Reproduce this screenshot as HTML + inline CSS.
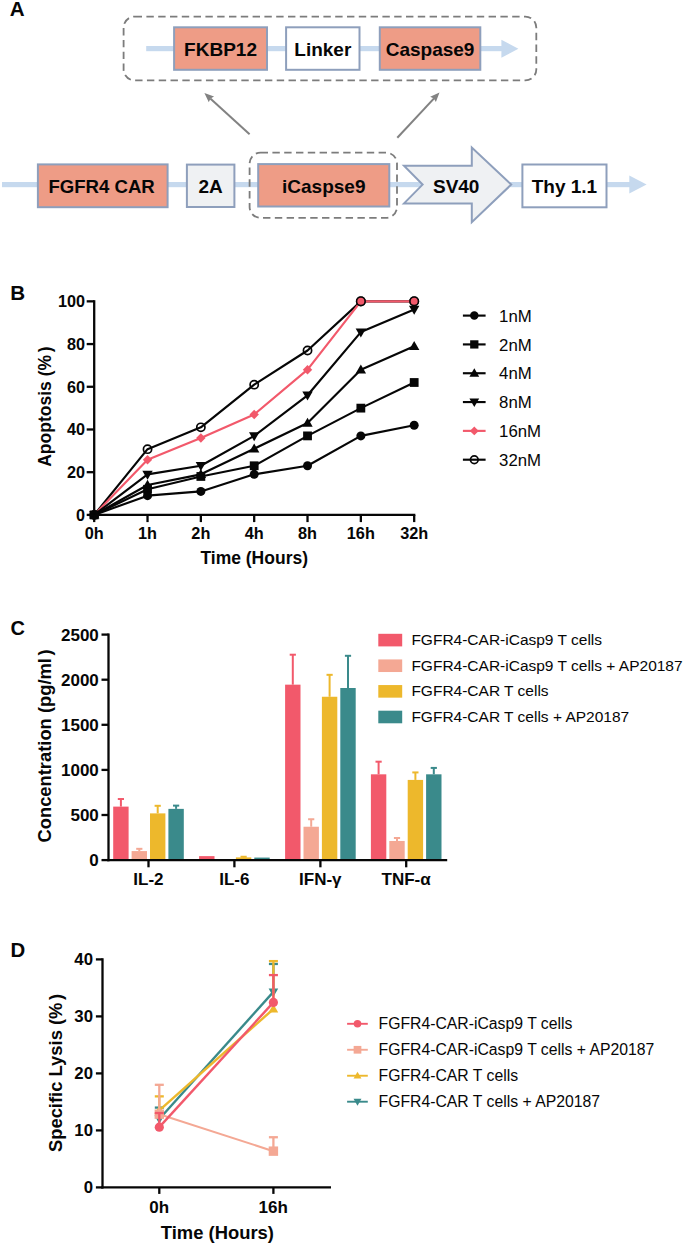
<!DOCTYPE html>
<html><head><meta charset="utf-8"><title>Figure</title>
<style>
html,body{margin:0;padding:0;background:#fff;}
body{width:685px;height:1245px;overflow:hidden;font-family:'Liberation Sans', sans-serif;}
svg{display:block;font-family:'Liberation Sans',sans-serif;}
</style></head><body>
<svg width="685" height="1245" viewBox="0 0 685 1245">
<rect width="685" height="1245" fill="#ffffff"/>
<text x="9.80" y="16.40" font-size="20.6" font-weight="bold" text-anchor="start" fill="#060606" >A</text>
<rect x="123.6" y="16.6" width="412.7" height="63.8" rx="11" ry="11" fill="none" stroke="#7C7C7C" stroke-width="1.8" stroke-dasharray="7.4 4.4"/>
<rect x="146.2" y="46" width="357" height="5.2" fill="#C6D9EE"/>
<polygon points="501.4,39.8 518.4,48.8 501.4,57.8" fill="#C6D9EE"/>
<rect x="174.10" y="27.30" width="92.90" height="42.50" fill="#EE9C86" stroke="#8E9FBC" stroke-width="2.0"/>
<text x="220.55" y="55.70" font-size="19" font-weight="bold" text-anchor="middle" fill="#060606" >FKBP12</text>
<rect x="286.10" y="27.30" width="73.40" height="42.50" fill="#FFFFFF" stroke="#8E9FBC" stroke-width="2.0"/>
<text x="322.80" y="55.70" font-size="19" font-weight="bold" text-anchor="middle" fill="#060606" >Linker</text>
<rect x="379.80" y="27.30" width="100.50" height="42.50" fill="#EE9C86" stroke="#8E9FBC" stroke-width="2.0"/>
<text x="430.05" y="55.70" font-size="19" font-weight="bold" text-anchor="middle" fill="#060606" >Caspase9</text>
<line x1="249.6" y1="134.2" x2="210.31" y2="98.39" stroke="#828282" stroke-width="2.0"/>
<polygon points="204.40,93.00 214.05,96.52 210.53,98.59 208.79,102.28" fill="#828282"/>
<line x1="397.3" y1="137.8" x2="434.05" y2="98.35" stroke="#828282" stroke-width="2.0"/>
<polygon points="439.50,92.50 435.88,102.11 433.84,98.57 430.17,96.79" fill="#828282"/>
<rect x="2" y="182" width="628" height="5.2" fill="#C6D9EE"/>
<polygon points="629.3,175.6 646.6,184.6 629.3,193.6" fill="#C6D9EE"/>
<rect x="249.6" y="152.6" width="147.4" height="65.3" rx="11" ry="11" fill="none" stroke="#7C7C7C" stroke-width="1.8" stroke-dasharray="7.4 4.4"/>
<rect x="37.90" y="164.40" width="129.70" height="42.80" fill="#EE9C86" stroke="#8E9FBC" stroke-width="2.0"/>
<text x="101.60" y="193.00" font-size="18.6" font-weight="bold" text-anchor="middle" fill="#060606" >FGFR4 CAR</text>
<rect x="186.90" y="164.60" width="47.50" height="42.40" fill="#EFF1F3" stroke="#8E9FBC" stroke-width="2.0"/>
<text x="210.65" y="193.00" font-size="19" font-weight="bold" text-anchor="middle" fill="#060606" >2A</text>
<rect x="258.20" y="164.10" width="131.10" height="42.40" fill="#EE9C86" stroke="#8E9FBC" stroke-width="2.0"/>
<text x="323.75" y="193.00" font-size="19" font-weight="bold" text-anchor="middle" fill="#060606" >iCaspse9</text>
<polygon points="404,165.8 471.8,165.8 471.8,147.6 511.2,184.6 471.8,222.2 471.8,203.4 404,203.4 422.6,184.6" fill="#EFF1F3" stroke="#8E9FBC" stroke-width="2.0" stroke-linejoin="miter"/>
<text x="456.20" y="193.00" font-size="19" font-weight="bold" text-anchor="middle" fill="#060606" >SV40</text>
<rect x="522.40" y="164.50" width="84.10" height="42.80" fill="#FFFFFF" stroke="#8E9FBC" stroke-width="2.0"/>
<text x="564.45" y="193.00" font-size="19" font-weight="bold" text-anchor="middle" fill="#060606" >Thy 1.1</text>
<text x="10.20" y="299.80" font-size="20.6" font-weight="bold" text-anchor="start" fill="#060606" >B</text>
<polyline points="94.20,514.90 147.53,449.13 200.86,427.34 254.19,384.63 307.52,350.47 360.85,301.35 414.18,301.35" fill="none" stroke="#060606" stroke-width="2.15" stroke-linejoin="round"/>
<circle cx="94.20" cy="514.90" r="4.10" fill="none" stroke="#060606" stroke-width="1.7"/>
<circle cx="147.53" cy="449.13" r="4.10" fill="none" stroke="#060606" stroke-width="1.7"/>
<circle cx="200.86" cy="427.34" r="4.10" fill="none" stroke="#060606" stroke-width="1.7"/>
<circle cx="254.19" cy="384.63" r="4.10" fill="none" stroke="#060606" stroke-width="1.7"/>
<circle cx="307.52" cy="350.47" r="4.10" fill="none" stroke="#060606" stroke-width="1.7"/>
<circle cx="360.85" cy="301.35" r="4.10" fill="none" stroke="#060606" stroke-width="1.7"/>
<circle cx="414.18" cy="301.35" r="4.10" fill="none" stroke="#060606" stroke-width="1.7"/>
<polyline points="94.20,514.90 147.53,459.80 200.86,438.02 254.19,414.53 307.52,369.69 360.85,301.35 414.18,301.35" fill="none" stroke="#F2596B" stroke-width="2.15" stroke-linejoin="round"/>
<polygon points="89.50,514.90 94.20,510.20 98.90,514.90 94.20,519.60" fill="#F2596B"/>
<polygon points="142.83,459.80 147.53,455.10 152.23,459.80 147.53,464.50" fill="#F2596B"/>
<polygon points="196.16,438.02 200.86,433.32 205.56,438.02 200.86,442.72" fill="#F2596B"/>
<polygon points="249.49,414.53 254.19,409.83 258.89,414.53 254.19,419.23" fill="#F2596B"/>
<polygon points="302.82,369.69 307.52,364.99 312.22,369.69 307.52,374.39" fill="#F2596B"/>
<polygon points="356.15,301.35 360.85,296.65 365.55,301.35 360.85,306.05" fill="#F2596B"/>
<polygon points="409.48,301.35 414.18,296.65 418.88,301.35 414.18,306.05" fill="#F2596B"/>
<polyline points="94.20,514.90 147.53,474.33 200.86,465.78 254.19,435.89 307.52,395.31 360.85,332.10 414.18,309.46" fill="none" stroke="#060606" stroke-width="2.15" stroke-linejoin="round"/>
<polygon points="89.00,511.20 99.40,511.20 94.20,520.20" fill="#060606"/>
<polygon points="142.33,470.63 152.73,470.63 147.53,479.63" fill="#060606"/>
<polygon points="195.66,462.08 206.06,462.08 200.86,471.08" fill="#060606"/>
<polygon points="248.99,432.19 259.39,432.19 254.19,441.19" fill="#060606"/>
<polygon points="302.32,391.61 312.72,391.61 307.52,400.61" fill="#060606"/>
<polygon points="355.65,328.40 366.05,328.40 360.85,337.40" fill="#060606"/>
<polygon points="408.98,305.76 419.38,305.76 414.18,314.76" fill="#060606"/>
<polyline points="94.20,514.90 147.53,485.00 200.86,474.33 254.19,448.70 307.52,423.07 360.85,369.69 414.18,346.20" fill="none" stroke="#060606" stroke-width="2.15" stroke-linejoin="round"/>
<polygon points="89.00,518.60 99.40,518.60 94.20,509.60" fill="#060606"/>
<polygon points="142.33,488.70 152.73,488.70 147.53,479.70" fill="#060606"/>
<polygon points="195.66,478.03 206.06,478.03 200.86,469.03" fill="#060606"/>
<polygon points="248.99,452.40 259.39,452.40 254.19,443.40" fill="#060606"/>
<polygon points="302.32,426.77 312.72,426.77 307.52,417.77" fill="#060606"/>
<polygon points="355.65,373.39 366.05,373.39 360.85,364.39" fill="#060606"/>
<polygon points="408.98,349.90 419.38,349.90 414.18,340.90" fill="#060606"/>
<polyline points="94.20,514.90 147.53,489.27 200.86,476.46 254.19,465.78 307.52,435.89 360.85,408.12 414.18,382.50" fill="none" stroke="#060606" stroke-width="2.15" stroke-linejoin="round"/>
<rect x="89.80" y="510.50" width="8.80" height="8.80" fill="#060606"/>
<rect x="143.13" y="484.87" width="8.80" height="8.80" fill="#060606"/>
<rect x="196.46" y="472.06" width="8.80" height="8.80" fill="#060606"/>
<rect x="249.79" y="461.38" width="8.80" height="8.80" fill="#060606"/>
<rect x="303.12" y="431.49" width="8.80" height="8.80" fill="#060606"/>
<rect x="356.45" y="403.73" width="8.80" height="8.80" fill="#060606"/>
<rect x="409.78" y="378.10" width="8.80" height="8.80" fill="#060606"/>
<polyline points="94.20,514.90 147.53,495.68 200.86,491.41 254.19,474.33 307.52,465.78 360.85,435.89 414.18,425.21" fill="none" stroke="#060606" stroke-width="2.15" stroke-linejoin="round"/>
<circle cx="94.20" cy="514.90" r="4.50" fill="#060606"/>
<circle cx="147.53" cy="495.68" r="4.50" fill="#060606"/>
<circle cx="200.86" cy="491.41" r="4.50" fill="#060606"/>
<circle cx="254.19" cy="474.33" r="4.50" fill="#060606"/>
<circle cx="307.52" cy="465.78" r="4.50" fill="#060606"/>
<circle cx="360.85" cy="435.89" r="4.50" fill="#060606"/>
<circle cx="414.18" cy="425.21" r="4.50" fill="#060606"/>
<circle cx="360.85" cy="301.35" r="4.3" fill="#F2596B" stroke="#060606" stroke-width="1.6"/>
<circle cx="414.18" cy="301.35" r="4.3" fill="#F2596B" stroke="#060606" stroke-width="1.6"/>
<line x1="94.2" y1="300.20" x2="94.2" y2="516.05" stroke="#060606" stroke-width="2.3"/>
<line x1="93.05" y1="514.9" x2="415.33" y2="514.9" stroke="#060606" stroke-width="2.3"/>
<line x1="86.7" y1="514.90" x2="94.2" y2="514.90" stroke="#060606" stroke-width="2.3"/>
<text x="84.90" y="520.65" font-size="16.2" font-weight="bold" text-anchor="end" fill="#060606" >0</text>
<line x1="86.7" y1="472.19" x2="94.2" y2="472.19" stroke="#060606" stroke-width="2.3"/>
<text x="84.90" y="477.94" font-size="16.2" font-weight="bold" text-anchor="end" fill="#060606" >20</text>
<line x1="86.7" y1="429.48" x2="94.2" y2="429.48" stroke="#060606" stroke-width="2.3"/>
<text x="84.90" y="435.23" font-size="16.2" font-weight="bold" text-anchor="end" fill="#060606" >40</text>
<line x1="86.7" y1="386.77" x2="94.2" y2="386.77" stroke="#060606" stroke-width="2.3"/>
<text x="84.90" y="392.52" font-size="16.2" font-weight="bold" text-anchor="end" fill="#060606" >60</text>
<line x1="86.7" y1="344.06" x2="94.2" y2="344.06" stroke="#060606" stroke-width="2.3"/>
<text x="84.90" y="349.81" font-size="16.2" font-weight="bold" text-anchor="end" fill="#060606" >80</text>
<line x1="86.7" y1="301.35" x2="94.2" y2="301.35" stroke="#060606" stroke-width="2.3"/>
<text x="84.90" y="307.10" font-size="16.2" font-weight="bold" text-anchor="end" fill="#060606" >100</text>
<line x1="94.20" y1="514.9" x2="94.20" y2="522.1" stroke="#060606" stroke-width="2.3"/>
<text x="94.20" y="539.30" font-size="16.3" font-weight="bold" text-anchor="middle" fill="#060606" >0h</text>
<line x1="147.53" y1="514.9" x2="147.53" y2="522.1" stroke="#060606" stroke-width="2.3"/>
<text x="147.53" y="539.30" font-size="16.3" font-weight="bold" text-anchor="middle" fill="#060606" >1h</text>
<line x1="200.86" y1="514.9" x2="200.86" y2="522.1" stroke="#060606" stroke-width="2.3"/>
<text x="200.86" y="539.30" font-size="16.3" font-weight="bold" text-anchor="middle" fill="#060606" >2h</text>
<line x1="254.19" y1="514.9" x2="254.19" y2="522.1" stroke="#060606" stroke-width="2.3"/>
<text x="254.19" y="539.30" font-size="16.3" font-weight="bold" text-anchor="middle" fill="#060606" >4h</text>
<line x1="307.52" y1="514.9" x2="307.52" y2="522.1" stroke="#060606" stroke-width="2.3"/>
<text x="307.52" y="539.30" font-size="16.3" font-weight="bold" text-anchor="middle" fill="#060606" >8h</text>
<line x1="360.85" y1="514.9" x2="360.85" y2="522.1" stroke="#060606" stroke-width="2.3"/>
<text x="360.85" y="539.30" font-size="16.3" font-weight="bold" text-anchor="middle" fill="#060606" >16h</text>
<line x1="414.18" y1="514.9" x2="414.18" y2="522.1" stroke="#060606" stroke-width="2.3"/>
<text x="414.18" y="539.30" font-size="16.3" font-weight="bold" text-anchor="middle" fill="#060606" >32h</text>
<text x="254.20" y="564.00" font-size="17.5" font-weight="bold" text-anchor="middle" fill="#060606" >Time (Hours)</text>
<text transform="translate(50.5,406.7) rotate(-90)" font-size="17.55" font-weight="bold" text-anchor="middle" fill="#060606">Apoptosis (%<tspan dx="2.5">)</tspan></text>
<line x1="462.9" y1="315.60" x2="485.6" y2="315.60" stroke="#060606" stroke-width="2.15"/>
<circle cx="474.30" cy="315.60" r="4.23" fill="#060606"/>
<text x="499.10" y="321.80" font-size="16.8" font-weight="normal" text-anchor="start" fill="#060606" >1nM</text>
<line x1="462.9" y1="344.42" x2="485.6" y2="344.42" stroke="#060606" stroke-width="2.15"/>
<rect x="470.16" y="340.28" width="8.27" height="8.27" fill="#060606"/>
<text x="499.10" y="350.62" font-size="16.8" font-weight="normal" text-anchor="start" fill="#060606" >2nM</text>
<line x1="462.9" y1="373.24" x2="485.6" y2="373.24" stroke="#060606" stroke-width="2.15"/>
<polygon points="469.41,376.72 479.19,376.72 474.30,368.26" fill="#060606"/>
<text x="499.10" y="379.44" font-size="16.8" font-weight="normal" text-anchor="start" fill="#060606" >4nM</text>
<line x1="462.9" y1="402.06" x2="485.6" y2="402.06" stroke="#060606" stroke-width="2.15"/>
<polygon points="469.41,398.58 479.19,398.58 474.30,407.04" fill="#060606"/>
<text x="499.10" y="408.26" font-size="16.8" font-weight="normal" text-anchor="start" fill="#060606" >8nM</text>
<line x1="462.9" y1="430.88" x2="485.6" y2="430.88" stroke="#F2596B" stroke-width="2.15"/>
<polygon points="469.88,430.88 474.30,426.46 478.72,430.88 474.30,435.30" fill="#F2596B"/>
<text x="499.10" y="437.08" font-size="16.8" font-weight="normal" text-anchor="start" fill="#060606" >16nM</text>
<line x1="462.9" y1="459.70" x2="485.6" y2="459.70" stroke="#060606" stroke-width="2.15"/>
<circle cx="474.30" cy="459.70" r="3.85" fill="none" stroke="#060606" stroke-width="1.7"/>
<text x="499.10" y="465.90" font-size="16.8" font-weight="normal" text-anchor="start" fill="#060606" >32nM</text>
<text x="10.60" y="634.60" font-size="20" font-weight="bold" text-anchor="start" fill="#060606" >C</text>
<line x1="120.90" y1="806.61" x2="120.90" y2="799.03" stroke="#F2596B" stroke-width="2"/>
<line x1="117.80" y1="799.03" x2="124.00" y2="799.03" stroke="#F2596B" stroke-width="2"/>
<rect x="113.20" y="806.61" width="15.4" height="53.49" fill="#F2596B"/>
<line x1="139.30" y1="851.08" x2="139.30" y2="848.83" stroke="#F4A894" stroke-width="2"/>
<line x1="136.20" y1="848.83" x2="142.40" y2="848.83" stroke="#F4A894" stroke-width="2"/>
<rect x="131.60" y="851.08" width="15.4" height="9.02" fill="#F4A894"/>
<line x1="157.70" y1="813.38" x2="157.70" y2="805.80" stroke="#EDB82C" stroke-width="2"/>
<line x1="154.60" y1="805.80" x2="160.80" y2="805.80" stroke="#EDB82C" stroke-width="2"/>
<rect x="150.00" y="813.38" width="15.4" height="46.72" fill="#EDB82C"/>
<line x1="176.10" y1="808.87" x2="176.10" y2="805.62" stroke="#3A8A8B" stroke-width="2"/>
<line x1="173.00" y1="805.62" x2="179.20" y2="805.62" stroke="#3A8A8B" stroke-width="2"/>
<rect x="168.40" y="808.87" width="15.4" height="51.23" fill="#3A8A8B"/>
<rect x="199.10" y="856.13" width="15.4" height="3.97" fill="#F2596B"/>
<line x1="243.60" y1="857.39" x2="243.60" y2="856.76" stroke="#EDB82C" stroke-width="2"/>
<line x1="240.50" y1="856.76" x2="246.70" y2="856.76" stroke="#EDB82C" stroke-width="2"/>
<rect x="235.90" y="857.39" width="15.4" height="2.71" fill="#EDB82C"/>
<rect x="254.30" y="857.57" width="15.4" height="2.53" fill="#3A8A8B"/>
<line x1="292.80" y1="684.66" x2="292.80" y2="654.71" stroke="#F2596B" stroke-width="2"/>
<line x1="289.70" y1="654.71" x2="295.90" y2="654.71" stroke="#F2596B" stroke-width="2"/>
<rect x="285.10" y="684.66" width="15.4" height="175.44" fill="#F2596B"/>
<line x1="311.20" y1="826.73" x2="311.20" y2="819.24" stroke="#F4A894" stroke-width="2"/>
<line x1="308.10" y1="819.24" x2="314.30" y2="819.24" stroke="#F4A894" stroke-width="2"/>
<rect x="303.50" y="826.73" width="15.4" height="33.37" fill="#F4A894"/>
<line x1="329.60" y1="696.75" x2="329.60" y2="674.83" stroke="#EDB82C" stroke-width="2"/>
<line x1="326.50" y1="674.83" x2="332.70" y2="674.83" stroke="#EDB82C" stroke-width="2"/>
<rect x="321.90" y="696.75" width="15.4" height="163.35" fill="#EDB82C"/>
<line x1="348.00" y1="688.00" x2="348.00" y2="655.80" stroke="#3A8A8B" stroke-width="2"/>
<line x1="344.90" y1="655.80" x2="351.10" y2="655.80" stroke="#3A8A8B" stroke-width="2"/>
<rect x="340.30" y="688.00" width="15.4" height="172.10" fill="#3A8A8B"/>
<line x1="378.60" y1="774.32" x2="378.60" y2="761.69" stroke="#F2596B" stroke-width="2"/>
<line x1="375.50" y1="761.69" x2="381.70" y2="761.69" stroke="#F2596B" stroke-width="2"/>
<rect x="370.90" y="774.32" width="15.4" height="85.78" fill="#F2596B"/>
<line x1="397.00" y1="840.98" x2="397.00" y2="838.00" stroke="#F4A894" stroke-width="2"/>
<line x1="393.90" y1="838.00" x2="400.10" y2="838.00" stroke="#F4A894" stroke-width="2"/>
<rect x="389.30" y="840.98" width="15.4" height="19.12" fill="#F4A894"/>
<line x1="415.40" y1="779.91" x2="415.40" y2="772.43" stroke="#EDB82C" stroke-width="2"/>
<line x1="412.30" y1="772.43" x2="418.50" y2="772.43" stroke="#EDB82C" stroke-width="2"/>
<rect x="407.70" y="779.91" width="15.4" height="80.19" fill="#EDB82C"/>
<line x1="433.80" y1="774.32" x2="433.80" y2="767.92" stroke="#3A8A8B" stroke-width="2"/>
<line x1="430.70" y1="767.92" x2="436.90" y2="767.92" stroke="#3A8A8B" stroke-width="2"/>
<rect x="426.10" y="774.32" width="15.4" height="85.78" fill="#3A8A8B"/>
<line x1="108.5" y1="633.45" x2="108.5" y2="861.25" stroke="#060606" stroke-width="2.3"/>
<line x1="107.35" y1="860.1" x2="447.2" y2="860.1" stroke="#060606" stroke-width="2.3"/>
<line x1="148.50" y1="860.1" x2="148.50" y2="867.3000000000001" stroke="#060606" stroke-width="2.3"/>
<text x="148.40" y="885.20" font-size="17" font-weight="bold" text-anchor="middle" fill="#060606" >IL-2</text>
<line x1="234.40" y1="860.1" x2="234.40" y2="867.3000000000001" stroke="#060606" stroke-width="2.3"/>
<text x="234.30" y="885.20" font-size="17" font-weight="bold" text-anchor="middle" fill="#060606" >IL-6</text>
<line x1="320.40" y1="860.1" x2="320.40" y2="867.3000000000001" stroke="#060606" stroke-width="2.3"/>
<text x="320.30" y="885.20" font-size="17" font-weight="bold" text-anchor="middle" fill="#060606" >IFN-γ</text>
<line x1="406.20" y1="860.1" x2="406.20" y2="867.3000000000001" stroke="#060606" stroke-width="2.3"/>
<text x="406.10" y="885.20" font-size="17" font-weight="bold" text-anchor="middle" fill="#060606" >TNF-α</text>
<line x1="101.5" y1="860.10" x2="108.5" y2="860.10" stroke="#060606" stroke-width="2.3"/>
<text x="98.80" y="866.00" font-size="17" font-weight="bold" text-anchor="end" fill="#060606" >0</text>
<line x1="101.5" y1="815.00" x2="108.5" y2="815.00" stroke="#060606" stroke-width="2.3"/>
<text x="98.80" y="820.90" font-size="17" font-weight="bold" text-anchor="end" fill="#060606" >500</text>
<line x1="101.5" y1="769.90" x2="108.5" y2="769.90" stroke="#060606" stroke-width="2.3"/>
<text x="98.80" y="775.80" font-size="17" font-weight="bold" text-anchor="end" fill="#060606" >1000</text>
<line x1="101.5" y1="724.80" x2="108.5" y2="724.80" stroke="#060606" stroke-width="2.3"/>
<text x="98.80" y="730.70" font-size="17" font-weight="bold" text-anchor="end" fill="#060606" >1500</text>
<line x1="101.5" y1="679.70" x2="108.5" y2="679.70" stroke="#060606" stroke-width="2.3"/>
<text x="98.80" y="685.60" font-size="17" font-weight="bold" text-anchor="end" fill="#060606" >2000</text>
<line x1="101.5" y1="634.60" x2="108.5" y2="634.60" stroke="#060606" stroke-width="2.3"/>
<text x="98.80" y="640.50" font-size="17" font-weight="bold" text-anchor="end" fill="#060606" >2500</text>
<text transform="translate(51.4,746.0) rotate(-90)" font-size="18.35" font-weight="bold" text-anchor="middle" fill="#060606">Concentration (pg/ml<tspan dx="2.5">)</tspan></text>
<rect x="378.3" y="633.80" width="23.9" height="12.6" fill="#F2596B"/>
<text x="411.40" y="645.10" font-size="15.5" font-weight="normal" text-anchor="start" fill="#060606" >FGFR4-CAR-iCasp9 T cells</text>
<rect x="378.3" y="659.43" width="23.9" height="12.6" fill="#F4A894"/>
<text x="411.40" y="670.73" font-size="15.5" font-weight="normal" text-anchor="start" fill="#060606" >FGFR4-CAR-iCasp9 T cells + AP20187</text>
<rect x="378.3" y="685.06" width="23.9" height="12.6" fill="#EDB82C"/>
<text x="411.40" y="696.36" font-size="15.5" font-weight="normal" text-anchor="start" fill="#060606" >FGFR4-CAR T cells</text>
<rect x="378.3" y="710.69" width="23.9" height="12.6" fill="#3A8A8B"/>
<text x="411.40" y="721.99" font-size="15.5" font-weight="normal" text-anchor="start" fill="#060606" >FGFR4-CAR T cells + AP20187</text>
<text x="10.40" y="957.40" font-size="20.4" font-weight="bold" text-anchor="start" fill="#060606" >D</text>
<line x1="159.30" y1="1119.00" x2="159.30" y2="1107.60" stroke="#3A8A8B" stroke-width="2.3"/>
<line x1="154.80" y1="1107.60" x2="163.80" y2="1107.60" stroke="#3A8A8B" stroke-width="2.3"/>
<line x1="273.40" y1="991.89" x2="273.40" y2="963.96" stroke="#3A8A8B" stroke-width="2.3"/>
<line x1="268.90" y1="963.96" x2="277.90" y2="963.96" stroke="#3A8A8B" stroke-width="2.3"/>
<line x1="159.3" y1="1119.00" x2="273.4" y2="991.89" stroke="#3A8A8B" stroke-width="2.4"/>
<polygon points="154.50,1115.50 164.10,1115.50 159.30,1124.00" fill="#3A8A8B"/>
<polygon points="268.60,988.39 278.20,988.39 273.40,996.89" fill="#3A8A8B"/>
<line x1="159.30" y1="1110.45" x2="159.30" y2="1096.37" stroke="#EDB82C" stroke-width="2.3"/>
<line x1="154.80" y1="1096.37" x2="163.80" y2="1096.37" stroke="#EDB82C" stroke-width="2.3"/>
<line x1="273.40" y1="1008.99" x2="273.40" y2="961.11" stroke="#EDB82C" stroke-width="2.3"/>
<line x1="268.90" y1="961.11" x2="277.90" y2="961.11" stroke="#EDB82C" stroke-width="2.3"/>
<line x1="159.3" y1="1110.45" x2="273.4" y2="1008.99" stroke="#EDB82C" stroke-width="2.4"/>
<polygon points="154.50,1113.95 164.10,1113.95 159.30,1105.45" fill="#EDB82C"/>
<polygon points="268.60,1012.49 278.20,1012.49 273.40,1003.99" fill="#EDB82C"/>
<line x1="159.30" y1="1114.16" x2="159.30" y2="1084.80" stroke="#F4A894" stroke-width="2.3"/>
<line x1="154.80" y1="1084.80" x2="163.80" y2="1084.80" stroke="#F4A894" stroke-width="2.3"/>
<line x1="273.40" y1="1151.15" x2="273.40" y2="1137.24" stroke="#F4A894" stroke-width="2.3"/>
<line x1="268.90" y1="1137.24" x2="277.90" y2="1137.24" stroke="#F4A894" stroke-width="2.3"/>
<line x1="159.3" y1="1114.16" x2="273.4" y2="1151.15" stroke="#F4A894" stroke-width="2.1"/>
<rect x="154.60" y="1109.46" width="9.40" height="9.40" fill="#F4A894"/>
<rect x="268.70" y="1146.45" width="9.40" height="9.40" fill="#F4A894"/>
<line x1="159.30" y1="1127.15" x2="159.30" y2="1113.02" stroke="#F2596B" stroke-width="2.3"/>
<line x1="154.80" y1="1113.02" x2="163.80" y2="1113.02" stroke="#F2596B" stroke-width="2.3"/>
<line x1="273.40" y1="1002.38" x2="273.40" y2="975.08" stroke="#F2596B" stroke-width="2.3"/>
<line x1="268.90" y1="975.08" x2="277.90" y2="975.08" stroke="#F2596B" stroke-width="2.3"/>
<line x1="159.3" y1="1127.15" x2="273.4" y2="1002.38" stroke="#F2596B" stroke-width="2.4"/>
<circle cx="159.30" cy="1127.15" r="4.60" fill="#F2596B"/>
<circle cx="273.40" cy="1002.38" r="4.60" fill="#F2596B"/>
<line x1="102.5" y1="958.25" x2="102.5" y2="1188.55" stroke="#060606" stroke-width="2.3"/>
<line x1="101.35" y1="1187.4" x2="331" y2="1187.4" stroke="#060606" stroke-width="2.3"/>
<line x1="95.9" y1="1187.40" x2="102.5" y2="1187.40" stroke="#060606" stroke-width="2.3"/>
<text x="93.00" y="1193.40" font-size="16.8" font-weight="bold" text-anchor="end" fill="#060606" >0</text>
<line x1="95.9" y1="1130.40" x2="102.5" y2="1130.40" stroke="#060606" stroke-width="2.3"/>
<text x="93.00" y="1136.40" font-size="16.8" font-weight="bold" text-anchor="end" fill="#060606" >10</text>
<line x1="95.9" y1="1073.40" x2="102.5" y2="1073.40" stroke="#060606" stroke-width="2.3"/>
<text x="93.00" y="1079.40" font-size="16.8" font-weight="bold" text-anchor="end" fill="#060606" >20</text>
<line x1="95.9" y1="1016.40" x2="102.5" y2="1016.40" stroke="#060606" stroke-width="2.3"/>
<text x="93.00" y="1022.40" font-size="16.8" font-weight="bold" text-anchor="end" fill="#060606" >30</text>
<line x1="95.9" y1="959.40" x2="102.5" y2="959.40" stroke="#060606" stroke-width="2.3"/>
<text x="93.00" y="965.40" font-size="16.8" font-weight="bold" text-anchor="end" fill="#060606" >40</text>
<line x1="159.3" y1="1187.4" x2="159.3" y2="1193.9" stroke="#060606" stroke-width="2.3"/>
<text x="159.10" y="1212.60" font-size="17" font-weight="bold" text-anchor="middle" fill="#060606" >0h</text>
<line x1="273.4" y1="1187.4" x2="273.4" y2="1193.9" stroke="#060606" stroke-width="2.3"/>
<text x="273.20" y="1212.60" font-size="17" font-weight="bold" text-anchor="middle" fill="#060606" >16h</text>
<text x="217.40" y="1239.00" font-size="18.4" font-weight="bold" text-anchor="middle" fill="#060606" >Time (Hours)</text>
<text transform="translate(62.3,1073.0) rotate(-90)" font-size="18.4" font-weight="bold" text-anchor="middle" fill="#060606">Specific Lysis (%<tspan dx="2.5">)</tspan></text>
<line x1="347.1" y1="1023.80" x2="367.8" y2="1023.80" stroke="#F2596B" stroke-width="1.9"/>
<circle cx="357.50" cy="1023.80" r="3.77" fill="#F2596B"/>
<text x="378.50" y="1029.40" font-size="15.78" font-weight="normal" text-anchor="start" fill="#060606" >FGFR4-CAR-iCasp9 T cells</text>
<line x1="347.1" y1="1049.77" x2="367.8" y2="1049.77" stroke="#F4A894" stroke-width="1.9"/>
<rect x="353.65" y="1045.92" width="7.71" height="7.71" fill="#F4A894"/>
<text x="378.50" y="1055.37" font-size="15.78" font-weight="normal" text-anchor="start" fill="#060606" >FGFR4-CAR-iCasp9 T cells + AP20187</text>
<line x1="347.1" y1="1075.74" x2="367.8" y2="1075.74" stroke="#EDB82C" stroke-width="1.9"/>
<polygon points="353.56,1078.61 361.44,1078.61 357.50,1071.64" fill="#EDB82C"/>
<text x="378.50" y="1081.34" font-size="15.78" font-weight="normal" text-anchor="start" fill="#060606" >FGFR4-CAR T cells</text>
<line x1="347.1" y1="1101.71" x2="367.8" y2="1101.71" stroke="#3A8A8B" stroke-width="1.9"/>
<polygon points="353.56,1098.84 361.44,1098.84 357.50,1105.81" fill="#3A8A8B"/>
<text x="378.50" y="1107.31" font-size="15.78" font-weight="normal" text-anchor="start" fill="#060606" >FGFR4-CAR T cells + AP20187</text>
</svg>
</body></html>
